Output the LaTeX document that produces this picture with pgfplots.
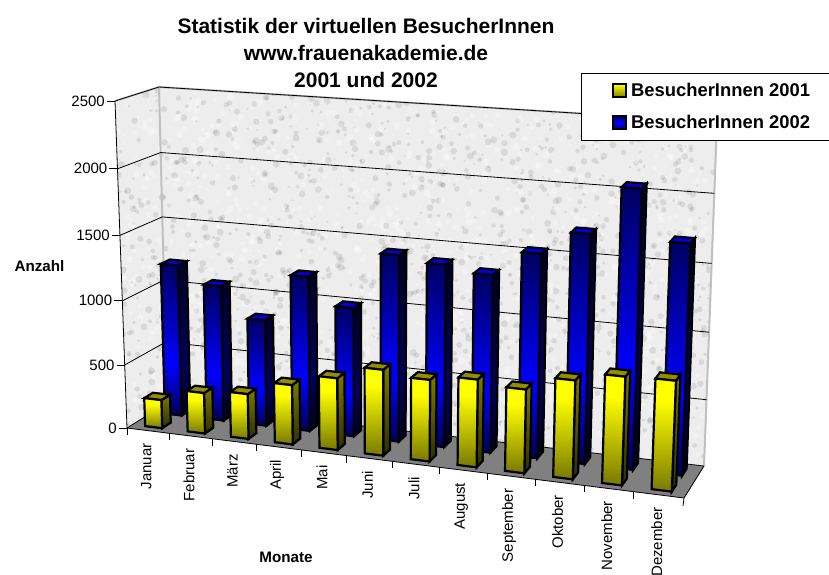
\documentclass[border=0pt]{standalone}
\usepackage{fontspec}
\setmainfont{Liberation Sans}
\usepackage{pgfplots}
\pgfplotsset{compat=1.18}
\definecolor{ybot}{RGB}{125,125,0}
\definecolor{ytop}{RGB}{150,140,0}
\definecolor{bdark}{RGB}{0,0,95}
\definecolor{btop}{RGB}{0,0,215}
\definecolor{floorgray}{RGB}{128,128,128}
\definecolor{wallgray}{RGB}{192,192,192}
\pgfdeclareverticalshading{bluebar}{100bp}{rgb(0bp)=(0,0,.33); rgb(25bp)=(0,0,.33); rgb(42bp)=(0,0,1); rgb(75bp)=(0,0,.38); rgb(100bp)=(0,0,.38)}
\pgfdeclareverticalshading{blueside}{100bp}{rgb(0bp)=(0,0,.10); rgb(25bp)=(0,0,.10); rgb(42bp)=(0,0,.36); rgb(75bp)=(0,0,.16); rgb(100bp)=(0,0,.16)}
\pgfdeclareverticalshading{yellowbar}{100bp}{rgb(0bp)=(.47,.47,0); rgb(25bp)=(.47,.47,0); rgb(65bp)=(1,1,0); rgb(75bp)=(1,1,0); rgb(100bp)=(1,1,0)}
\pgfdeclareverticalshading{yellowside}{100bp}{rgb(0bp)=(.18,.18,0); rgb(25bp)=(.18,.18,0); rgb(75bp)=(.48,.48,0); rgb(100bp)=(.48,.48,0)}
% projection of (u along months, w depth, h height) to pixel position
\newcommand{\prj}[4]{%
\pgfmathsetmacro\uu{(#2)+0.0916*(#2)*((#2)-1)}%
\pgfmathsetmacro\ww{#3}%
\pgfmathsetmacro\hh{(#4)+0.046*(#4)*((#4)-1)}%
\pgfmathsetmacro\xx{(1-\hh)*((1-\ww)*((1-\uu)*127+\uu*684)+\ww*((1-\uu)*167+\uu*704))+\hh*((1-\ww)*((1-\uu)*115+\uu*698)+\ww*((1-\uu)*159+\uu*717))}%
\pgfmathsetmacro\yy{(1-\hh)*((1-\ww)*((1-\uu)*428+\uu*498)+\ww*((1-\uu)*403+\uu*466))+\hh*((1-\ww)*((1-\uu)*101+\uu*144)+\ww*((1-\uu)*87+\uu*122))}%
\expandafter\xdef\csname #1\endcsname{(\xx,\yy)}%
\expandafter\xdef\csname #1x\endcsname{\xx}%
\expandafter\xdef\csname #1y\endcsname{\yy}}
\newcommand{\drawbar}[5]{%
\pgfmathsetmacro\uC{((#1)+0.5)/12}%
\pgfmathsetmacro\uL{\uC-0.0168}%
\pgfmathsetmacro\uR{\uC+0.0168}%
\pgfmathsetmacro\vV{(#4)/2500}%
\prj{pa}{\uL}{#2}{0}\prj{pb}{\uR}{#2}{0}\prj{pc}{\uR}{#3}{0}%
\prj{pe}{\uL}{#2}{\vV}\prj{pf}{\uR}{#2}{\vV}\prj{pg}{\uR}{#3}{\vV}\prj{ph}{\uL}{#3}{\vV}%
\edef\temp{%
\noexpand\addplot[#5side] coordinates {\pb \pc \pg \pf} --cycle;
\noexpand\addplot[#5top] coordinates {\pe \pf \pg \ph} --cycle;
\noexpand\addplot[#5front] coordinates {\pa \pb \pf \pe} --cycle;
}\temp}
\pgfplotsset{
 barbase/.style={forget plot,mark=none,draw=black,line width=2.2pt,line join=miter,miter limit=6},
 yfront/.style={barbase,shade,shading=yellowbar},
 yside/.style={barbase,shade,shading=yellowside},
 ytop/.style={barbase,fill=ytop},
 bfront/.style={barbase,shade,shading=bluebar},
 bside/.style={barbase,shade,shading=blueside},
 btop/.style={barbase,fill=btop},
 grid3d/.style={forget plot,mark=none,draw=black,line width=0.8pt},
 legy/.style={draw=black,line width=1.7pt,top color=yellow,bottom color=ybot},
 legb/.style={draw=black,line width=1.7pt,top color=bdark,bottom color=bdark,middle color=blue},
}
\begin{document}
\begin{tikzpicture}
\path[use as bounding box] (0,0) rectangle (829pt,574pt);
\begin{scope}[x=1pt,y=-1pt,yshift=574pt]
\fill[white] (0,0) rectangle (829,574);
\begin{scope}
\clip (115,101) -- (159,87) -- (717,122) -- (704,466) -- (167,403) -- (127,428) -- cycle;
\fill[black!7] (100,80) rectangle (730,480);
\pgfmathsetseed{7}
\foreach \i in {1,...,3600}{
 \pgfmathsetmacro\qx{100+630*rnd}
 \pgfmathsetmacro\qy{80+400*rnd}
 \pgfmathsetmacro\qr{1.0+2.6*rnd}
 \pgfmathtruncatemacro\qk{mod(\i,2)}
 \ifnum\qk=0
  \fill[white,opacity=0.3] (\qx,\qy) circle (\qr);
 \else
  \fill[black,opacity=0.085] (\qx,\qy) circle (\qr);
 \fi
}
\end{scope}
\end{scope}
\begin{axis}[at={(0,0)},anchor=south west,scale only axis,width=829pt,height=574pt,
 xmin=0,xmax=829,ymin=0,ymax=574,y dir=reverse,hide axis,clip=false,
 legend style={at={(0.7008,0.8728)},anchor=north west,draw=black,line width=0.8pt,fill=white,
   inner xsep=31pt,inner ysep=8pt,row sep=13pt,font=\fontsize{18.4}{20}\selectfont\bfseries,cells={anchor=west}},
 legend image code/.code={\draw[#1] (0pt,-6.5pt) rectangle (13pt,6.5pt);\path (15pt,0pt);},
]
\addlegendimage{legy}\addlegendentry{BesucherInnen 2001}
\addlegendimage{legb}\addlegendentry{BesucherInnen 2002}
% floor
\addplot[forget plot,mark=none,fill=floorgray,draw=none] coordinates {(127,428) (684,498) (704,466) (167,403)} --cycle;
% wall edges
\addplot[forget plot,mark=none,draw=wallgray,line width=2pt] coordinates {(115,101) (159,87) (717,122) (704,466)};
\addplot[forget plot,mark=none,draw=wallgray,line width=2pt] coordinates {(159,87) (167,403)};
% grid lines and value ticks
\foreach \v/\lab in {0/0,0.2/500,0.4/1000,0.6/1500,0.8/2000,1/2500}{
 \prj{qa}{0}{0}{\v}\prj{qb}{0}{1}{\v}\prj{qc}{1}{1}{\v}
 \pgfmathsetmacro\tx{\qax-8}\pgfmathsetmacro\lx{\qax-10}
 \edef\temp{%
 \noexpand\addplot[grid3d] coordinates {\qa \qb \qc};
 \noexpand\addplot[grid3d] coordinates {(\tx,\qay) \qa};
 \noexpand\node[anchor=east,inner sep=0pt,font=\noexpand\fontsize{15}{15}\noexpand\selectfont] at (\lx,\qay) {\lab};
 }\temp
}
% axis edges
\addplot[grid3d] coordinates {(115,101) (127,428) (684,498) (704,466)};
% month ticks and names
\foreach \k/\m in {0/Januar,1/Februar,2/März,3/April,4/Mai,5/Juni,6/Juli,7/August,8/September,9/Oktober,10/November,11/Dezember}{
 \pgfmathsetmacro\uA{\k/12}\pgfmathsetmacro\uM{(\k+0.5)/12}
 \prj{ra}{\uA}{0}{0}\prj{rb}{\uM}{0}{0}
 \pgfmathsetmacro\ty{\ray+7}\pgfmathsetmacro\ly{\rby+12.5}\pgfmathsetmacro\lx{\rbx-2}
 \edef\temp{%
 \noexpand\addplot[grid3d] coordinates {\ra (\rax,\ty)};
 \noexpand\node[anchor=east,rotate=90,inner sep=0pt,font=\noexpand\fontsize{15}{15}\noexpand\selectfont] at (\lx,\ly) {\m};
 }\temp
}
\addplot[grid3d] coordinates {(684,498) (683,506)};
% BesucherInnen 2002 (rear row)
\foreach \i/\v in {0/1195,1/1065,2/833,3/1203,4/997,5/1430,6/1390,7/1345,8/1532,9/1705,10/2058,11/1698}{
 \drawbar{\i}{0.64}{0.86}{\v}{b}
}
% BesucherInnen 2001 (front row)
\foreach \i/\v in {0/224,1/320,2/352,3/462,4/554,5/658,6/621,7/663,8/629,9/736,10/803,11/813}{
 \drawbar{\i}{0.14}{0.36}{\v}{y}
}
% titles
\node[align=center,font=\fontsize{21}{27}\selectfont\bfseries] at (366,53) {Statistik der virtuellen BesucherInnen\\www.frauenakademie.de\\2001 und 2002};
\node[font=\fontsize{15.2}{16}\selectfont\bfseries] at (39.5,266) {Anzahl};
\node[font=\fontsize{15.2}{16}\selectfont\bfseries] at (286,557) {Monate};
\end{axis}
\end{tikzpicture}
\end{document}
